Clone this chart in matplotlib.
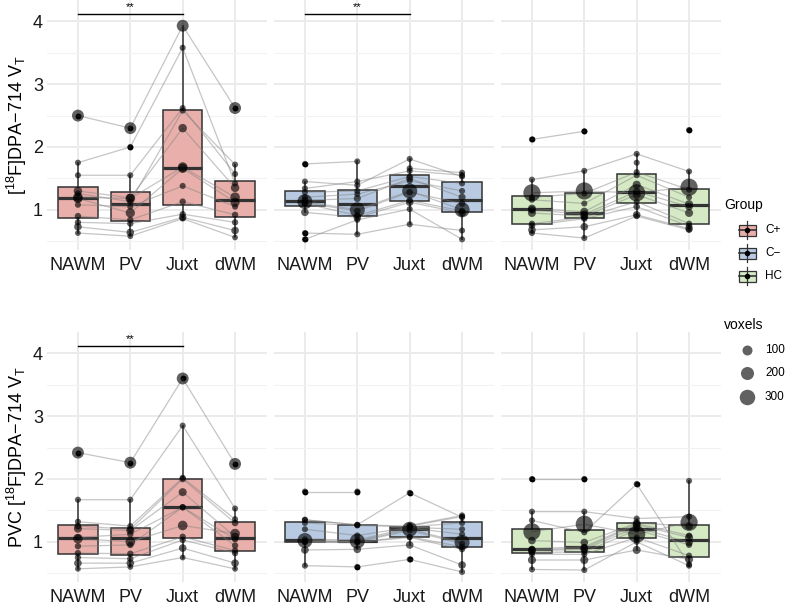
import matplotlib
matplotlib.use("Agg")
import matplotlib.pyplot as plt
import numpy as np
from matplotlib.patches import Rectangle

plt.rcParams['font.family'] = ['Liberation Sans', 'DejaVu Sans']
plt.rcParams['mathtext.fontset'] = 'custom'
plt.rcParams['mathtext.rm'] = 'Liberation Sans'
plt.rcParams['mathtext.it'] = 'Liberation Sans:italic'
plt.rcParams['mathtext.bf'] = 'Liberation Sans:bold'

nan = np.nan
regions = ['NAWM', 'PV', 'Juxt', 'dWM']
groups = ['C+', 'C−', 'HC']
group_colors = ['#E9AFAA', '#B7CAE2', '#D5E9C5']
voxel_breaks = [100, 200, 300]

# one row per subject, columns follow `regions`
vt_cpos = [[2.50, 2.30, 3.93, 2.62],
           [1.75, 2.00, 3.58, 1.42],
           [1.55, 1.55, 2.62, 1.57],
           [1.30, 1.19, 2.30, 1.35],
           [1.20, 1.18, 1.68, 1.20],
           [1.26, 1.13, 2.58, 1.72],
           [1.18, 0.95, 1.66, 1.12],
           [1.08, 1.05, 1.38, 1.05],
           [0.90, 0.84, 1.13, 0.92],
           [0.80, 0.78, 0.93, 0.80],
           [0.73, 0.64, 0.88, 0.67],
           [0.63, 0.58, 0.86, 0.56]]
vox_cpos = [160, 10, 10, 60, 90, 10, 80, 10, 15, 15, 40, 5]

vt_cneg = [[1.73, 1.77, nan, nan],
           [1.45, 1.39, 1.81, 1.53],
           [1.34, 1.45, 1.62, 1.55],
           [1.28, 1.30, 1.53, 1.42],
           [1.13, 1.00, 1.30, 1.00],
           [1.20, 1.25, 1.46, 1.30],
           [1.15, 1.18, 1.50, 1.20],
           [1.11, 0.98, 1.28, 1.10],
           [1.10, 0.91, 1.15, 0.98],
           [0.96, 0.88, 1.12, 0.95],
           [0.63, 0.61, 0.77, 0.67],
           [0.53, 0.84, 1.01, 0.53],
           [nan, nan, 1.66, 1.59]]
vox_cneg_vt = [10, 10, 10, 10, 280, 10, 30, 20, 20, 40, 10, 10, 10]

vt_hc = [[2.12, 2.25, nan, 2.27],
         [1.48, 1.62, 1.89, 1.61],
         [1.27, 1.30, 1.27, 1.36],
         [1.20, 1.26, 1.60, 1.32],
         [1.16, 1.10, 1.55, 1.20],
         [1.02, 0.97, 1.40, 1.09],
         [1.00, 0.93, 1.29, 1.05],
         [0.95, 0.90, 1.24, 0.95],
         [0.78, 0.88, 1.13, 0.78],
         [0.75, 0.86, 1.05, 0.74],
         [0.68, 0.73, 0.92, 0.70],
         [0.63, 0.55, 0.90, 0.68],
         [nan, nan, 1.75, nan]]
vox_hc_vt = [10, 10, 380, 10, 10, 50, 40, 50, 10, 20, 40, 10, 10]

pvc_cpos = [[2.42, 2.26, 3.60, 2.24],
            [1.67, 1.67, 2.85, 1.53],
            [1.32, 1.25, 2.02, 1.36],
            [1.25, 1.20, 2.00, 1.30],
            [1.05, 1.00, 1.26, 1.13],
            [1.21, 1.18, 1.79, 1.08],
            [1.07, 1.12, 1.55, 1.04],
            [0.93, 0.95, 1.55, 0.94],
            [0.82, 0.81, 1.08, 0.86],
            [0.75, 0.73, 1.03, 0.82],
            [0.66, 0.66, 0.90, 0.66],
            [0.57, 0.60, 0.75, 0.57]]
vox_cpos_pvc = [160, 10, 10, 20, 90, 50, 15, 15, 15, 15, 40, 5]

pvc_cneg = [[1.80, 1.80, nan, nan],
            [1.35, 1.27, 1.78, 1.39],
            [1.35, 1.27, 1.25, 1.40],
            [1.30, 1.26, 1.24, 1.30],
            [1.20, 1.10, 1.23, 1.20],
            [1.04, 1.03, 1.22, 1.12],
            [1.02, 1.01, 1.20, 0.99],
            [1.01, 1.00, 1.18, 0.97],
            [1.00, 1.00, 1.08, 0.92],
            [0.99, 0.99, 1.07, 0.88],
            [0.87, 0.88, 0.95, 0.63],
            [0.62, 0.60, 0.72, 0.52],
            [nan, nan, 1.26, 1.42]]
vox_cneg_pvc = [10, 10, 10, 10, 10, 10, 280, 10, 10, 10, 40, 10, 10]

pvc_hc = [[2.00, 2.00, nan, 1.97],
          [1.48, 1.48, 1.37, 1.40],
          [1.34, 1.15, 1.92, 0.64],
          [1.16, 1.28, 1.12, 1.31],
          [1.02, 0.99, 1.30, 1.25],
          [0.89, 0.92, 1.29, 1.10],
          [0.87, 0.90, 1.27, 1.07],
          [0.86, 0.88, 1.23, 0.99],
          [0.83, 0.84, 1.19, 0.95],
          [0.80, 0.80, 1.07, 0.78],
          [0.71, 0.71, 0.87, 0.72],
          [0.56, 0.55, 1.00, 0.62],
          [nan, nan, 1.04, nan]]
vox_hc_pvc = [10, 10, 10, 380, 40, 10, 50, 40, 10, 10, 50, 10, 10]

row_labels = ['[$^{18}$F]DPA−714 V$_\\mathrm{T}$',
              'PVC [$^{18}$F]DPA−714 V$_\\mathrm{T}$']
row_data = [[vt_cpos, vt_cneg, vt_hc], [pvc_cpos, pvc_cneg, pvc_hc]]
row_vox = [[vox_cpos, vox_cneg_vt, vox_hc_vt], [vox_cpos_pvc, vox_cneg_pvc, vox_hc_pvc]]

# significance brackets: (row, group index, from region, to region, label)
sig_marks = [(0, 0, 'NAWM', 'Juxt', '**'),
             (0, 1, 'NAWM', 'Juxt', '**'),
             (1, 0, 'NAWM', 'Juxt', '**')]


def vox_size(v):
    # point area (pt^2) for a voxel count
    return 0.5184 * (30 + 0.7 * np.asarray(v, dtype=float))


W, H = 787, 608
fig = plt.figure(figsize=(W / 100, H / 100), dpi=100)

lefts = [46.5, 273.5, 500.5]
tops = [0, 332]
pw, ph = 220, 250
edge = '#333333'
pos = np.arange(1, len(regions) + 1)

axes = {}
for r in range(2):
    for g in range(3):
        ax = fig.add_axes([lefts[g] / W, (H - tops[r] - ph) / H, pw / W, ph / H])
        axes[(r, g)] = ax
        vals = np.array(row_data[r][g], dtype=float)
        vox = np.array(row_vox[r][g], dtype=float)

        cols = [vals[:, j][~np.isnan(vals[:, j])] for j in range(len(regions))]
        ax.boxplot(cols, positions=pos, widths=0.75, whis=1.5, patch_artist=True,
                   showcaps=False, zorder=2,
                   boxprops=dict(facecolor=group_colors[g], edgecolor=edge, linewidth=1.1),
                   whiskerprops=dict(color=edge, linewidth=1.1),
                   medianprops=dict(color=edge, linewidth=2.3),
                   flierprops=dict(marker='o', markerfacecolor='black',
                                   markeredgecolor='none', markersize=4.2))

        for i in range(vals.shape[0]):
            ax.plot(pos, vals[i], color='#7f7f7f', alpha=0.45, lw=0.9, zorder=3)
            ax.scatter(pos, vals[i], s=vox_size(np.full(len(regions), vox[i])),
                       color='black', alpha=0.62, linewidths=0, zorder=4)

        ax.set_xlim(0.4, 4.6)
        ax.set_ylim(0.36, 4.34)
        ax.set_xticks(pos)
        ax.set_xticklabels(regions)
        ax.set_yticks([1, 2, 3, 4])
        ax.set_yticks([0.5, 1.5, 2.5, 3.5], minor=True)
        ax.grid(True, which='major', color='#EBEBEB', lw=1.4, zorder=0)
        ax.grid(True, which='minor', axis='y', color='#F2F2F2', lw=0.8, zorder=0)
        ax.set_axisbelow(True)
        for s in ax.spines.values():
            s.set_visible(False)
        ax.tick_params(axis='both', which='both', length=0, labelsize=13, colors='#1a1a1a')
        ax.tick_params(axis='x', pad=5)
        ax.tick_params(axis='y', pad=2.5)
        if g == 0:
            ax.set_ylabel(row_labels[r], fontsize=13)
            ax.yaxis.set_label_coords(-0.08, 0.5)
        else:
            ax.set_yticklabels([])

for r, g, a, b, lab in sig_marks:
    ax = axes[(r, g)]
    xa, xb = regions.index(a) + 1, regions.index(b) + 1
    ax.plot([xa, xb], [4.11, 4.11], color='black', lw=1.0, zorder=5, clip_on=False)
    ax.text((xa + xb) / 2, 4.15, lab, ha='center', va='bottom', fontsize=8, clip_on=False)

# legend drawn in pixel space
leg = fig.add_axes([0, 0, 1, 1])
leg.set_xlim(0, W)
leg.set_ylim(H, 0)
leg.axis('off')

leg.text(724, 205, 'Group', fontsize=10, va='center', ha='left')
for k, (name, col) in enumerate(zip(groups, group_colors)):
    y = 230 + k * 23
    leg.plot([747, 747], [y - 9, y + 9], color=edge, lw=0.9)
    leg.add_patch(Rectangle((738.5, y - 5.5), 17, 11, facecolor=col, edgecolor=edge, lw=0.9))
    leg.plot([738.5, 755.5], [y, y], color=edge, lw=1.2)
    leg.scatter([747], [y], s=9, color='black', zorder=5)
    leg.text(765, y, name, fontsize=8.5, va='center', ha='left')

leg.text(724, 325, 'voxels', fontsize=10, va='center', ha='left')
for k, b in enumerate(voxel_breaks):
    y = 350 + k * 23.3
    leg.scatter([747], [y], s=vox_size(b), color='black', alpha=0.62, linewidths=0)
    leg.text(765, y, str(b), fontsize=8.5, va='center', ha='left')

fig.savefig('out.png', dpi=100)
